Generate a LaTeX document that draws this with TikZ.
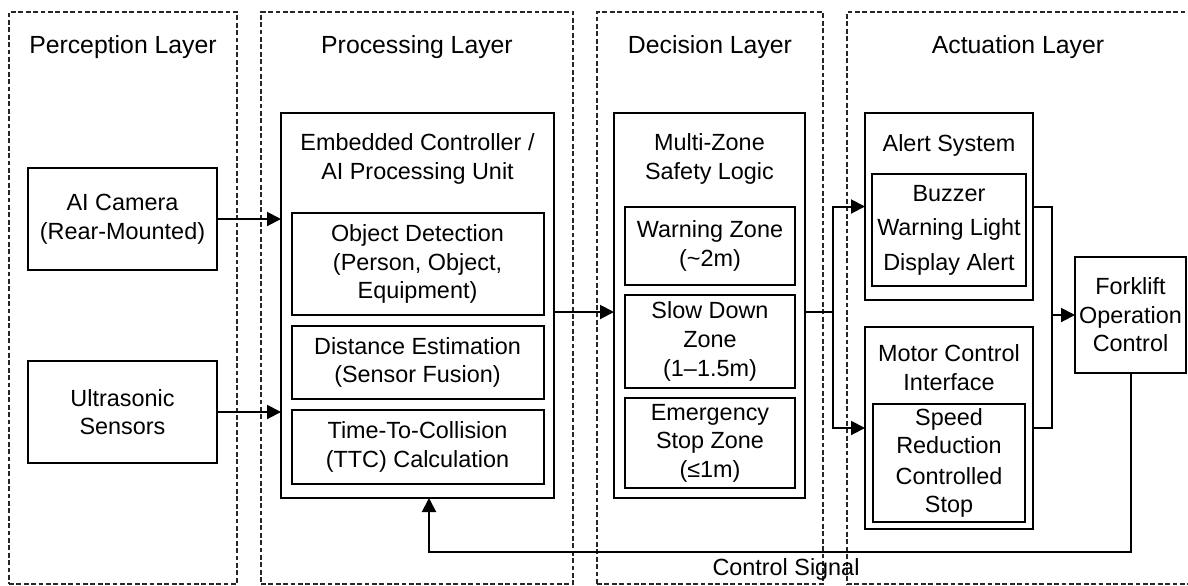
\documentclass[tikz,border=0pt]{standalone}
\usepackage{fontspec}
\setmainfont{Liberation Sans}
\usetikzlibrary{arrows.meta,positioning,calc}

\begin{document}
\begin{tikzpicture}[x=0.5pt, y=-0.5pt,
  font=\fontsize{11.7}{14.3}\selectfont,
  layer/.style={draw=black!85, line width=0.7pt, dash pattern=on 2.4pt off 1.3pt,
                inner sep=0pt, outer sep=0pt, minimum height=286pt},
  head/.style={font=\fontsize{12.4}{15}\selectfont, inner sep=0pt},
  box/.style={draw, line width=1pt, align=center, inner sep=2pt, outer sep=0pt},
  lbl/.style={align=center, inner sep=0pt},
  arr/.style={-{Triangle[length=7pt, width=7pt]}, line width=1pt}]

\useasboundingbox (0,0) rectangle (1188,585);

% the four layers
\node[layer, minimum width=114pt] (perc) at (123,298) {};
\node[layer, minimum width=156pt] (proc) at (417,298) {};
\node[layer, minimum width=113pt] (deci) at (710,298) {};
\node[layer, minimum width=171pt] (actu) at (1018,298) {};

\coordinate (headline) at (0,47);
\foreach \l/\t in {perc/Perception Layer, proc/Processing Layer,
                   deci/Decision Layer, actu/Actuation Layer}
  \node[head] (\l-head) at (\l.north |- headline) {\t};

% sensors
\node[box, minimum width=94.5pt, minimum height=51pt] (cam) at (122.5,219)
     {AI Camera\\(Rear-Mounted)};
\node[box, minimum width=94.5pt, minimum height=51pt] (sonar) at (122.5,412)
     {Ultrasonic\\Sensors};

% controller
\node[box, minimum width=136.5pt, minimum height=192.5pt] (ecu) at (417.5,305.5) {};
\node[lbl] (ecu-title) at (417.5,159) {Embedded Controller /\\AI Processing Unit};
\node[box, minimum width=126pt, minimum height=51pt] (objdet) at (417.5,264)
     {Object Detection\\(Person, Object,\\Equipment)};
\node[box, minimum width=126pt, minimum height=36.5pt, below=5.5pt of objdet] (dist)
     {Distance Estimation\\(Sensor Fusion)};
\node[box, minimum width=126pt, minimum height=37pt, below=5.5pt of dist] (ttc)
     {Time-To-Collision\\(TTC) Calculation};

% zone logic
\node[box, minimum width=95.5pt, minimum height=192.5pt] (mz) at (709.5,305.5) {};
\node[lbl] (mz-title) at (709.5,159) {Multi-Zone\\Safety Logic};
\node[box, minimum width=85pt, minimum height=39pt] (warn) at (710,246)
     {Warning Zone\\(\textasciitilde2m)};
\node[box, minimum width=85pt, minimum height=46.5pt, below=5pt of warn] (slow)
     {Slow Down\\Zone\\(1–1.5m)};
\node[box, minimum width=85pt, minimum height=45pt, below=5pt of slow] (estop)
     {Emergency\\Stop Zone\\(≤1m)};

% outputs
\node[box, minimum width=84pt, minimum height=93.5pt] (alert) at (949,206.5) {};
\node[lbl] (alert-title) at (949,145) {Alert System};
\node[box, minimum width=77pt, minimum height=56pt] (buzz) at (949,230)
     {Buzzer\\[3pt]Warning Light\\[3pt]Display Alert};
\node[box, minimum width=84pt, minimum height=101pt] (motor) at (949,428) {};
\node[lbl] (motor-title) at (949,367.5) {Motor Control\\Interface};
\node[box, minimum width=76pt, minimum height=59pt, inner sep=1pt] (speed) at (949,463)
     {Speed\\Reduction\\[1pt]Controlled\\Stop};
\node[box, minimum width=55.5pt, minimum height=58pt, inner sep=1pt] (fork) at (1130.5,315)
     {Forklift\\Operation\\Control};

% wiring
\coordinate (split) at (833,312);
\coordinate (join) at (1052,315);
\coordinate (back) at (429,552);

\foreach \s in {cam, sonar}
  \draw[arr] (\s.east) -- (\s.east -| ecu.west);
\draw[arr] (ecu.east |- split) -- (mz.west |- split);
\draw[line width=1pt] (mz.east |- split) -- (split);
\draw[arr] (split) |- (alert.west);
\draw[arr] (split) |- (motor.west);
\draw[line width=1pt] (alert.east) -| (join) |- (motor.east);
\draw[arr] (join) -- (fork.west);
\draw[arr] (fork.south) |- (back) -- (back |- ecu.south);
\node (signal) at (786,569) {Control Signal};
\end{tikzpicture}
\end{document}
